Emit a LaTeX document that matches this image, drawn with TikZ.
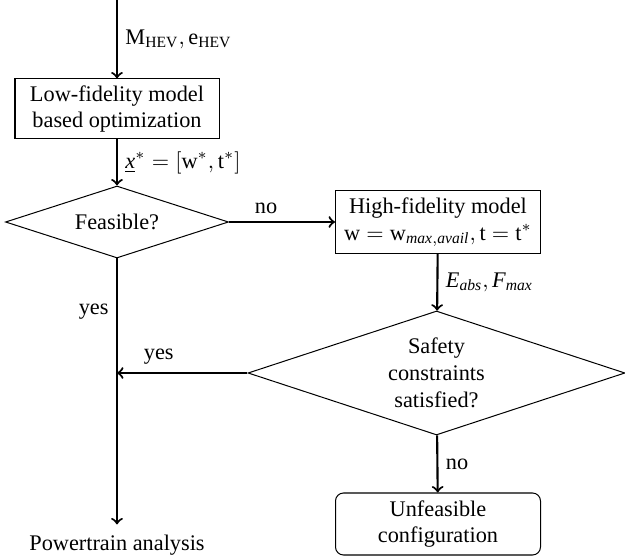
\documentclass[tikz,border=0pt]{standalone}
\usepackage{fontspec}
\setmainfont{Liberation Serif}
\usetikzlibrary{shapes.geometric}
\begin{document}
\begin{tikzpicture}[x=0.4484pt,y=-0.4484pt]
\def\u{0.4484pt} %one pixel of the page
\def\boxW{205} %width of the boxes
\def\boxH{62} %height of the boxes
\def\lw{0.45pt} %outline of boxes and diamonds
\def\aw{0.95pt} %width of the arrows

\tikzstyle{block} = [rectangle, draw, line width=\lw, align=center, inner sep=0mm, minimum width=\boxW*\u, minimum height=\boxH*\u]
\tikzstyle{decision} = [diamond, draw, line width=\lw, align=center, inner sep=0mm, aspect=3]
\tikzstyle{flow} = [-to, line width=\aw]

\useasboundingbox (0,0) rectangle (625,560);

\coordinate (start) at (117,0);
\node[block, minimum width=204*\u, minimum height=60*\u] (lowfid) at (117,109) {Low-fidelity model\\based optimization};
\node[decision, minimum width=223*\u, minimum height=72*\u] (feas) at (117,222) {Feasible?};
\node[block, minimum height=63*\u] (highfid) at (438,222) {High-fidelity model\\$\mathrm{w}=\mathrm{w}_{\mathit{max,avail}},\mathrm{t}=\mathrm{t}^{*}$};
\node[decision, minimum width=377*\u, minimum height=124*\u] (safe) at (436.5,373) {Safety\\constraints\\satisfied?};
\node[block, rounded corners=8*\u] (unfeas) at (438,524) {Unfeasible\\configuration};
\node[inner sep=10*\u] (pta) at (117,545) {Powertrain analysis};
\coordinate (join) at (117,373);

\draw[flow] (start) -- (lowfid) node[midway,right]{$\mathrm{M}_{\mathrm{HEV}},\mathrm{e}_{\mathrm{HEV}}$};
\draw[flow] (lowfid) -- (feas) node[midway,right]{$\underline{\mathit{x}}^{*}=[\mathrm{w}^{*},\mathrm{t}^{*}]$};
\draw[flow] (feas) -- (highfid) node[pos=0.35,above]{no};
\draw[flow] (highfid) -- (safe) node[midway,right]{$\mathit{E}_{\mathit{abs}},\mathit{F}_{\mathit{max}}$};
\draw[flow] (safe) -- (unfeas) node[midway,right]{no};
\draw[flow] (safe) -- (join) node[pos=0.68,above]{yes};
\draw[flow] (feas) -- (pta) node[pos=0.2,left]{yes};

\end{tikzpicture}
\end{document}
